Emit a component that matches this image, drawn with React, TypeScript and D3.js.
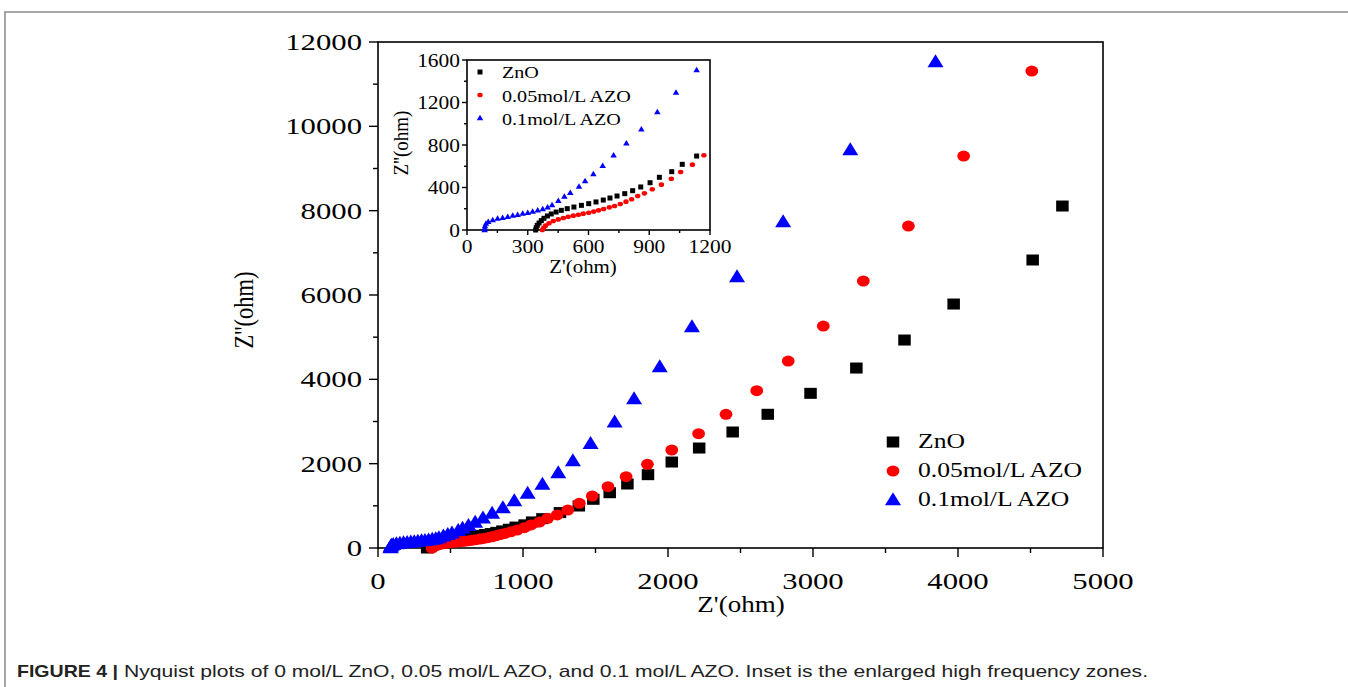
import * as d3 from 'd3';

const znoRe = [339, 342, 347, 356, 367, 380, 397, 416, 440, 466, 495, 528, 565, 601, 637, 673, 706, 741, 779, 818, 858, 904, 950, 1011, 1063, 1134, 1255, 1385, 1485, 1598, 1720, 1862, 2026, 2215, 2446, 2688, 2983, 3299, 3631, 3970, 4515, 4720];
const znoIm = [0, 22, 44, 66, 88, 110, 132, 151, 169, 185, 201, 216, 232, 248, 264, 282, 301, 320, 342, 370, 405, 445, 496, 549, 618, 696, 840, 996, 1155, 1311, 1518, 1739, 2039, 2371, 2751, 3171, 3668, 4268, 4932, 5786, 6830, 8110];

const azo05Re = [372, 378, 388, 405, 426, 451, 476, 500, 525, 550, 574, 601, 626, 650, 675, 703, 729, 757, 785, 813, 843, 876, 915, 960, 1009, 1055, 1113, 1170, 1236, 1309, 1388, 1478, 1586, 1711, 1858, 2026, 2211, 2400, 2612, 2829, 3071, 3347, 3658, 4039, 4509];
const azo05Im = [0, 19, 41, 63, 85, 100, 113, 125, 135, 144, 154, 163, 173, 185, 198, 213, 226, 245, 267, 289, 320, 345, 383, 427, 483, 546, 615, 703, 783, 901, 1060, 1233, 1454, 1691, 1985, 2324, 2711, 3170, 3730, 4434, 5264, 6332, 7636, 9296, 11311];

const azo1Re = [87, 87, 89, 94, 105, 127, 151, 176, 201, 226, 250, 275, 300, 324, 349, 374, 398, 420, 451, 481, 510, 553, 583, 624, 670, 724, 787, 861, 940, 1032, 1134, 1243, 1344, 1466, 1632, 1766, 1943, 2165, 2476, 2794, 3257, 3845];
const azo1Im = [0, 16, 38, 60, 78, 94, 107, 116, 125, 135, 144, 154, 163, 173, 185, 198, 213, 235, 276, 314, 351, 408, 461, 527, 605, 703, 816, 947, 1111, 1293, 1506, 1778, 2063, 2474, 2981, 3533, 4292, 5241, 6426, 7730, 9438, 11525];

const seriesNames = ['ZnO', '0.05mol/L AZO', '0.1mol/L AZO'];
const seriesColors = ['#000000', '#ff0000', '#0000ff'];
const seriesShapes = ['square', 'circle', 'triangle'];

const mainXTicks = [0, 1000, 2000, 3000, 4000, 5000];
const mainYTicks = [0, 2000, 4000, 6000, 8000, 10000, 12000];
const insetXTicks = [0, 300, 600, 900, 1200];
const insetYTicks = [0, 400, 800, 1200, 1600];

const caption = 'Nyquist plots of 0 mol/L ZnO, 0.05 mol/L AZO, and 0.1 mol/L AZO. Inset is the enlarged high frequency zones.';

const serif = "'Liberation Serif', 'Times New Roman', serif";

const series = [
  { re: znoRe, im: znoIm },
  { re: azo05Re, im: azo05Im },
  { re: azo1Re, im: azo1Im },
];

const Marker = ({ shape, x, y, w, h, color }) => {
  if (shape === 'square') {
    return <rect x={x - w / 2} y={y - h / 2} width={w} height={h} fill={color} />;
  }
  if (shape === 'circle') {
    return <ellipse cx={x} cy={y} rx={w / 2} ry={h / 2} fill={color} />;
  }
  return (
    <path
      d={`M${x},${y - h * 0.6}L${x + w / 2},${y + h * 0.4}L${x - w / 2},${y + h * 0.4}Z`}
      fill={color}
    />
  );
};

// stretched text, the original figure is widened horizontally
const Label = ({ x, y, size, sx, anchor = 'middle', rotate = false, children }) => (
  <text
    transform={`translate(${x},${y}) scale(${sx},1)${rotate ? ' rotate(-90)' : ''}`}
    fontSize={size}
    fontFamily={serif}
    textAnchor={anchor}
    fill="#000"
  >
    {children}
  </text>
);

const Axes = ({ x, y, xTicks, yTicks, xMinor, yMinor, major, minor, tickFont, tickSx, yLabelGap, xLabelY }) => {
  const [x0, x1] = x.range();
  const [y0, y1] = y.range();
  return (
    <g>
      <rect x={x0} y={y1} width={x1 - x0} height={y0 - y1} fill="none" stroke="#000" strokeWidth={1.6} />
      {xMinor.map((t) => (
        <line key={'xm' + t} x1={x(t)} x2={x(t)} y1={y0} y2={y0 + minor} stroke="#000" strokeWidth={1.4} />
      ))}
      {xTicks.map((t) => (
        <g key={'x' + t}>
          <line x1={x(t)} x2={x(t)} y1={y0} y2={y0 + major} stroke="#000" strokeWidth={1.4} />
          <Label x={x(t)} y={xLabelY} size={tickFont} sx={tickSx}>{t}</Label>
        </g>
      ))}
      {yMinor.map((t) => (
        <line key={'ym' + t} x1={x0 - minor} x2={x0} y1={y(t)} y2={y(t)} stroke="#000" strokeWidth={1.4} />
      ))}
      {yTicks.map((t) => (
        <g key={'y' + t}>
          <line x1={x0 - major} x2={x0} y1={y(t)} y2={y(t)} stroke="#000" strokeWidth={1.4} />
          <Label x={x0 - yLabelGap} y={y(t) + tickFont * 0.34} size={tickFont} sx={tickSx} anchor="end">{t}</Label>
        </g>
      ))}
    </g>
  );
};

export default function App() {
  const x = d3.scaleLinear().domain([0, 5000]).range([378, 1103]);
  const y = d3.scaleLinear().domain([0, 12000]).range([548, 42]);
  const xi = d3.scaleLinear().domain([0, 1200]).range([467, 710]);
  const yi = d3.scaleLinear().domain([0, 1600]).range([230, 60]);

  const mainSize = [
    [12.5, 11],
    [12.8, 11],
    [16, 13],
  ];
  const insetSize = [
    [5, 5],
    [5.4, 4.6],
    [6.5, 5.5],
  ];

  return (
    <svg width={1348} height={687} style={{ position: 'absolute', left: 0, top: 0, background: '#fff' }}>
      <polyline points="1348,12 5,12 5,687" fill="none" stroke="#8a8a8a" strokeWidth={1.5} />

      {/* main plot */}
      <Axes
        x={x}
        y={y}
        xTicks={mainXTicks}
        yTicks={mainYTicks}
        xMinor={d3.range(500, 5000, 1000)}
        yMinor={d3.range(1000, 12000, 2000)}
        major={9}
        minor={5}
        tickFont={24}
        tickSx={1.28}
        yLabelGap={16}
        xLabelY={589}
      />
      <Label x={741} y={612} size={22.5} sx={1.2}>Z'(ohm)</Label>
      <Label x={253} y={310} size={22.5} sx={1.2} rotate>Z''(ohm)</Label>

      {series.map((s, k) => (
        <g key={'m' + k}>
          {s.re.map((v, i) => (
            <Marker key={i} shape={seriesShapes[k]} x={x(v)} y={y(s.im[i])} w={mainSize[k][0]} h={mainSize[k][1]} color={seriesColors[k]} />
          ))}
        </g>
      ))}

      {seriesNames.map((name, k) => (
        <g key={'lg' + k}>
          <Marker shape={seriesShapes[k]} x={893} y={442 + k * 29} w={mainSize[k][0]} h={mainSize[k][1]} color={seriesColors[k]} />
          <Label x={918} y={448 + k * 29} size={20.5} sx={1.25} anchor="start">{name}</Label>
        </g>
      ))}

      {/* inset */}
      <rect x={xi(0)} y={yi(1600)} width={xi(1200) - xi(0)} height={yi(0) - yi(1600)} fill="#fff" />
      <Axes
        x={xi}
        y={yi}
        xTicks={insetXTicks}
        yTicks={insetYTicks}
        xMinor={d3.range(150, 1200, 300)}
        yMinor={d3.range(200, 1600, 400)}
        major={5}
        minor={3}
        tickFont={19.5}
        tickSx={1.1}
        yLabelGap={7}
        xLabelY={253}
      />
      <Label x={583} y={273} size={19} sx={1.1}>Z'(ohm)</Label>
      <Label x={408} y={143} size={19} sx={1.1} rotate>Z''(ohm)</Label>

      {series.map((s, k) => (
        <g key={'i' + k}>
          {s.re.map((v, i) =>
            v <= 1200 && s.im[i] <= 1600 ? (
              <Marker key={i} shape={seriesShapes[k]} x={xi(v)} y={yi(s.im[i])} w={insetSize[k][0]} h={insetSize[k][1]} color={seriesColors[k]} />
            ) : null
          )}
        </g>
      ))}

      {seriesNames.map((name, k) => (
        <g key={'il' + k}>
          <Marker shape={seriesShapes[k]} x={480} y={72 + k * 23} w={insetSize[k][0]} h={insetSize[k][1]} color={seriesColors[k]} />
          <Label x={502} y={78 + k * 23.5} size={16.5} sx={1.22} anchor="start">{name}</Label>
        </g>
      ))}

      {/* caption */}
      <text x={17} y={677} fontFamily="'Liberation Sans', Arial, sans-serif" fontSize={17} fontWeight="bold" fill="#222" textLength={101} lengthAdjust="spacingAndGlyphs">
        FIGURE 4 |
      </text>
      <text x={124} y={677} fontFamily="'Liberation Sans', Arial, sans-serif" fontSize={17} fill="#222" textLength={1024} lengthAdjust="spacingAndGlyphs">
        {caption}
      </text>
    </svg>
  );
}
